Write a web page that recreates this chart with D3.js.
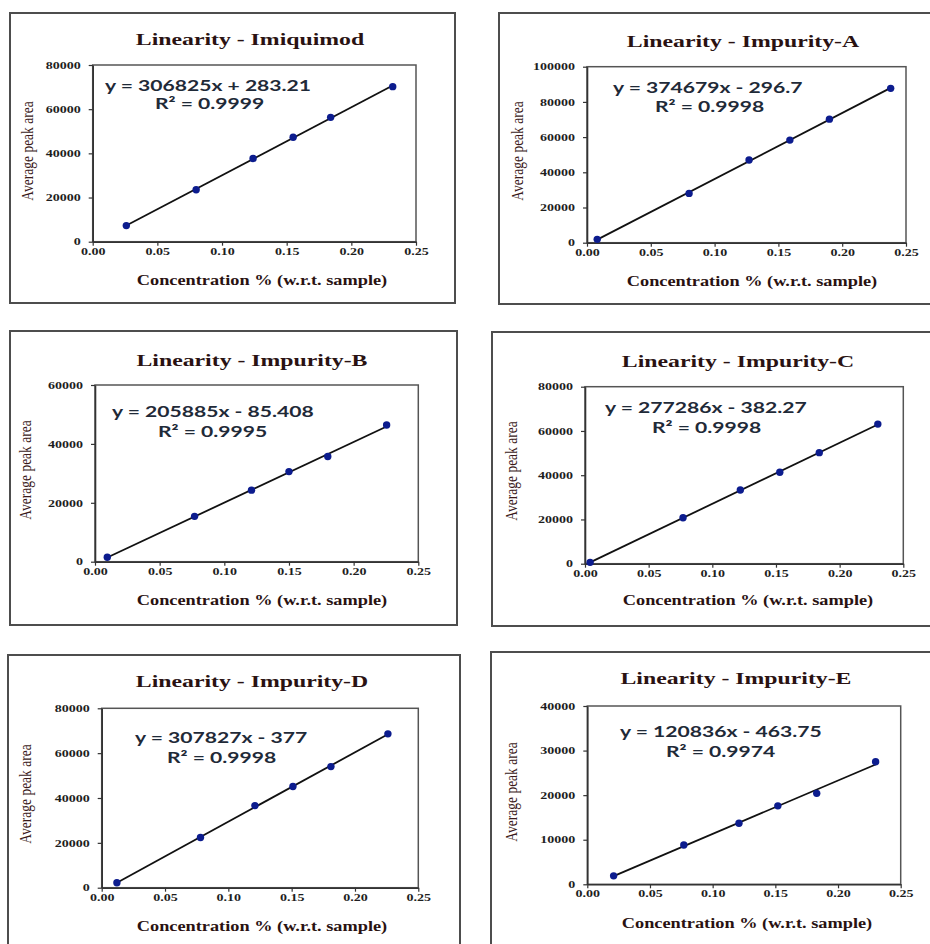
<!DOCTYPE html>
<html>
<head>
<meta charset="utf-8">
<script src="https://cdn.jsdelivr.net/npm/d3@7"></script>
<style>
  html, body { margin: 0; padding: 0; background: #ffffff; }
  svg { display: block; }
</style>
</head>
<body>
<svg id="chart" width="930" height="944"></svg>
<script>
// ---------------- DATA ----------------
const titles = [
  "Linearity - Imiquimod",
  "Linearity - Impurity-A",
  "Linearity - Impurity-B",
  "Linearity - Impurity-C",
  "Linearity - Impurity-D",
  "Linearity - Impurity-E"
];
const xAxisTitle = "Concentration % (w.r.t. sample)";
const yAxisTitle = "Average peak area";

const concImiquimod = [0.026, 0.080, 0.124, 0.155, 0.184, 0.232];
const areaImiquimod = [7300, 23500, 37700, 47300, 56300, 70200];

const concImpA = [0.008, 0.080, 0.127, 0.159, 0.190, 0.238];
const areaImpA = [1900, 28000, 47000, 58300, 70200, 87700];

const concImpB = [0.0095, 0.077, 0.121, 0.150, 0.180, 0.2255];
const areaImpB = [1500, 15400, 24300, 30600, 35700, 46400];

const concImpC = [0.004, 0.077, 0.122, 0.153, 0.184, 0.230];
const areaImpC = [600, 20800, 33300, 41300, 50200, 63100];

const concImpD = [0.012, 0.078, 0.121, 0.151, 0.181, 0.226];
const areaImpD = [2200, 22400, 36600, 45100, 54000, 68600];

const concImpE = [0.021, 0.077, 0.121, 0.152, 0.183, 0.230];
const areaImpE = [1900, 8800, 13700, 17600, 20400, 27500];

const concentrations = [concImiquimod, concImpA, concImpB, concImpC, concImpD, concImpE];
const areas = [areaImiquimod, areaImpA, areaImpB, areaImpC, areaImpD, areaImpE];

const yMax = [80000, 100000, 60000, 80000, 80000, 40000];
const yStep = [20000, 20000, 20000, 20000, 20000, 10000];
const xTicks = [0, 0.05, 0.10, 0.15, 0.20, 0.25];

const slopes = [306825, 374679, 205885, 277286, 307827, 120836];
const intercepts = [283.21, -296.7, -85.408, -382.27, -377, -463.75];
const r2Values = ["0.9999", "0.9998", "0.9995", "0.9998", "0.9998", "0.9974"];

// ---------------- LAYOUT ----------------
const frames = [
  {x: 10,  y: 13,  w: 445, h: 290},
  {x: 499, y: 13,  w: 445, h: 291},
  {x: 10,  y: 331, w: 447, h: 294},
  {x: 492, y: 332, w: 445, h: 294},
  {x: 8,   y: 655, w: 452, h: 300},
  {x: 491, y: 652, w: 445, h: 300}
];
const plots = [
  {x: 92.7,  y: 65,    w: 323.3, h: 176.7},
  {x: 587,   y: 66.7,  w: 319,   h: 176},
  {x: 95,    y: 385,   w: 323.3, h: 176.7},
  {x: 585,   y: 386.7, w: 318.3, h: 177},
  {x: 101.7, y: 708.3, w: 316.6, h: 179.4},
  {x: 587.3, y: 706,   w: 313.4, h: 178.3}
];
const titlePos = [[250, 45], [743, 47], [252, 366], [738, 367], [252, 687], [736, 684]];
const eqPos    = [[105, 91], [613, 93], [112, 417], [605, 413], [135, 743], [620, 737]];
const r2Pos    = [[155, 109], [655, 112], [158, 437], [652, 433], [167, 763], [666, 757]];
const xtPos    = [[262, 285], [752, 286], [262, 605], [748, 605], [262, 931], [747, 928]];
const ytPos    = [[27, 151], [517, 151], [25, 470], [511, 471], [25, 794], [511, 792]];

const serif = "'Liberation Serif', 'Times New Roman', serif";
const sans = "Lato, 'Open Sans', sans-serif";

function stretch(sel, k) {
  sel.each(function () {
    const L = this.getComputedTextLength();
    this.setAttribute("textLength", L * k);
    this.setAttribute("lengthAdjust", "spacingAndGlyphs");
  });
}

function fmtEq(m, b) {
  const sign = b < 0 ? " - " : " + ";
  return "y = " + m + "x" + sign + Math.abs(b);
}

const svg = d3.select("#chart");

titles.forEach((title, i) => {
  const f = frames[i], p = plots[i];
  const g = svg.append("g");

  g.append("rect")
    .attr("x", f.x).attr("y", f.y).attr("width", f.w).attr("height", f.h)
    .attr("fill", "none").attr("stroke", "#4d4d4d").attr("stroke-width", 2);

  const x = d3.scaleLinear().domain([0, 0.25]).range([p.x, p.x + p.w]);
  const y = d3.scaleLinear().domain([0, yMax[i]]).range([p.y + p.h, p.y]);

  // plot area frame
  g.append("rect")
    .attr("x", p.x).attr("y", p.y).attr("width", p.w).attr("height", p.h)
    .attr("fill", "none").attr("stroke", "#555").attr("stroke-width", 1.5);

  const xAxis = g.append("g")
    .attr("transform", `translate(0,${p.y + p.h})`)
    .call(d3.axisBottom(x).tickValues(xTicks).tickFormat(d3.format(".2f"))
      .tickSize(4).tickSizeOuter(0).tickPadding(2));
  const yAxis = g.append("g")
    .attr("transform", `translate(${p.x},0)`)
    .call(d3.axisLeft(y).tickValues(d3.range(0, yMax[i] + 1, yStep[i]))
      .tickFormat(d => String(d)).tickSize(4).tickSizeOuter(0).tickPadding(8));

  [xAxis, yAxis].forEach(ax => {
    ax.select(".domain").attr("stroke", "#333").attr("stroke-width", 1.6);
    ax.selectAll(".tick line").attr("stroke", "#333").attr("stroke-width", 1.2);
    ax.selectAll(".tick text")
      .attr("font-family", serif).attr("font-weight", "bold")
      .attr("font-size", 10).attr("fill", "#1e1e1e");
    stretch(ax.selectAll(".tick text"), 1.4);
  });

  // trendline (least squares of the plotted points)
  const xs = concentrations[i], ys = areas[i];
  const mx = d3.mean(xs), my = d3.mean(ys);
  const slope = d3.sum(xs.map((v, k) => (v - mx) * (ys[k] - my))) / d3.sum(xs.map(v => (v - mx) ** 2));
  const icpt = my - slope * mx;
  const x0 = d3.min(xs), x1 = d3.max(xs);
  g.append("line")
    .attr("x1", x(x0)).attr("y1", y(slope * x0 + icpt))
    .attr("x2", x(x1)).attr("y2", y(slope * x1 + icpt))
    .attr("stroke", "#111").attr("stroke-width", 1.8);

  g.selectAll("circle.pt").data(xs.map((v, k) => [v, ys[k]])).enter()
    .append("circle").attr("class", "pt")
    .attr("cx", d => x(d[0])).attr("cy", d => y(d[1])).attr("r", 3.7)
    .attr("fill", "#0c1c8e");

  // title
  const t = g.append("text")
    .attr("x", titlePos[i][0]).attr("y", titlePos[i][1])
    .attr("text-anchor", "middle")
    .attr("font-family", serif).attr("font-weight", "bold").attr("font-size", 16.5)
    .attr("fill", "#2a1212").text(title);
  stretch(t, 1.44);

  // equation + R²
  const eq = g.append("text")
    .attr("x", eqPos[i][0]).attr("y", eqPos[i][1])
    .attr("font-family", sans).attr("font-weight", "bold").attr("font-size", 15.5)
    .attr("fill", "#1f2a38").text(fmtEq(slopes[i], intercepts[i]));
  stretch(eq, 1.36);
  const r2 = g.append("text")
    .attr("x", r2Pos[i][0]).attr("y", r2Pos[i][1])
    .attr("font-family", sans).attr("font-weight", "bold").attr("font-size", 15.5)
    .attr("fill", "#1f2a38").text("R\u00B2 = " + r2Values[i]);
  stretch(r2, 1.36);

  // axis titles
  const xt = g.append("text")
    .attr("x", xtPos[i][0]).attr("y", xtPos[i][1])
    .attr("text-anchor", "middle")
    .attr("font-family", serif).attr("font-weight", "bold").attr("font-size", 15)
    .attr("fill", "#2a1212").text(xAxisTitle);
  stretch(xt, 1.22);

  g.append("text")
    .attr("transform", `translate(${ytPos[i][0]},${ytPos[i][1]}) scale(1.3,1) rotate(-90)`)
    .attr("text-anchor", "middle").attr("dy", "0.35em")
    .attr("font-family", serif).attr("font-size", 13.5)
    .attr("fill", "#3a1a1a").text(yAxisTitle);
});
</script>
</body>
</html>
